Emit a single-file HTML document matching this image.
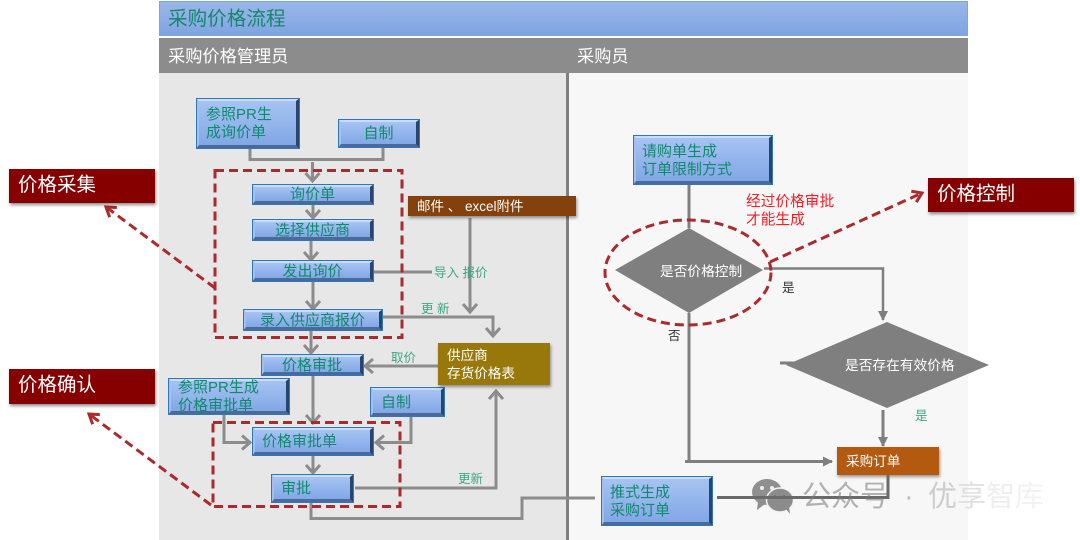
<!DOCTYPE html>
<html><head><meta charset="utf-8">
<style>
html,body{margin:0;padding:0;background:#fff}
#p{position:relative;width:1080px;height:540px;overflow:hidden;background:#fff;font-family:"Liberation Sans","Noto Sans CJK SC",sans-serif}
#p div{position:absolute;box-sizing:border-box;white-space:nowrap}
.b{background:linear-gradient(#a6c3f2,#82a7e6);border-style:solid;border-color:#c9dcf8 #27456f #4a6a9e #a3bfec;border-width:3px 4px 4px 3px;outline:1px solid #2f78b8;outline-offset:-1px;color:#0f8a6c;font-size:15px;line-height:18px;padding-top:2px;display:flex;align-items:center;justify-content:center}
.l{justify-content:flex-start}
.r{background:#860000;color:#fff;font-size:19.5px;line-height:33px;padding-left:9px;box-shadow:1px 2px 3px rgba(0,0,0,.45)}
.s{box-shadow:1px 2px 3px rgba(0,0,0,.4);color:#fff}
.t{font-size:12.500px;line-height:14px;color:#3fa582}
</style></head><body><div id="p">
<div style="left:159px;top:1px;width:809px;height:35px;background:linear-gradient(#9ab7e8,#7fa4e2);border:1px solid #7aa6e0;color:#14886a;font-size:19.6px;line-height:35px;padding-left:8px">采购价格流程</div>
<div style="left:159px;top:38px;width:809px;height:35px;background:#8c8c8c;color:#fff;font-size:17.2px;line-height:37px;padding-left:9px">采购价格管理员<span style="position:absolute;left:418px">采购员</span></div>
<div style="left:159px;top:73px;width:408px;height:467px;background:#e7e7e7"></div>
<div style="left:569px;top:73px;width:399px;height:467px;background:#f7f7f7"></div>
<div style="left:566px;top:73px;width:3px;height:467px;background:#808080"></div>

<svg width="1080" height="540" style="position:absolute;left:0;top:0">
<defs>
<marker id="a" markerUnits="userSpaceOnUse" markerWidth="18" markerHeight="18" refX="13" refY="9" orient="auto"><path d="M5 2 L13 9 L5 16" fill="none" stroke="#8c8c8c" stroke-width="3"/></marker>
<marker id="d" markerUnits="userSpaceOnUse" markerWidth="12" markerHeight="12" refX="10" refY="6" orient="auto"><path d="M1 1 L11 6 L1 11 Z" fill="#7f7f7f"/></marker>
<marker id="v" markerUnits="userSpaceOnUse" markerWidth="16" markerHeight="16" refX="13" refY="8" orient="auto"><path d="M4 2 L13 8 L4 14" fill="none" stroke="#ab2a2c" stroke-width="3"/></marker>
</defs>
<g fill="none" stroke="#8c8c8c" stroke-width="3">
<path d="M250 149V159.5H383V148"/>
<path d="M312.5 162V181" marker-end="url(#a)"/>
<path d="M313 205V218" marker-end="url(#a)"/>
<path d="M311 241V260" marker-end="url(#a)"/>
<path d="M313 282V309" marker-end="url(#a)"/>
<path d="M311 331V353" marker-end="url(#a)"/>
<path d="M313 376V423" marker-end="url(#a)"/>
<path d="M313 456V473" marker-end="url(#a)"/>
<path d="M470 218V312" marker-end="url(#a)"/>
<path d="M374 272H432"/>
<path d="M383 317H493V336" marker-end="url(#a)"/>
<path d="M438 366H365" marker-end="url(#a)"/>
<path d="M224 415V442.5H250" marker-end="url(#a)"/>
<path d="M411 417V442.5H376" marker-end="url(#a)"/>
<path d="M355 488H496V391" marker-end="url(#a)"/>
<path d="M311 503V518.5H522V498H595"/>
</g>
<g fill="none" stroke="#7f7f7f" stroke-width="3">
<path d="M689 185V228"/>
<path d="M689 313V461.5"/>
<path d="M685 461.5H832" marker-end="url(#d)"/>
<path d="M764 268.5H883V320" stroke-width="2.5" marker-end="url(#d)"/>
<path d="M883 410V446" marker-end="url(#d)"/>
<path d="M780 363H802"/>
</g>
<polygon points="689,228 763,270 689,313 615,270" fill="#7f7f7f"/>
<polygon points="887,322 989,365 887,408 786,365" fill="#7f7f7f"/>
<g fill="none" stroke="#ab2a2c" stroke-width="3" stroke-dasharray="9 5">
<rect x="215" y="170.5" width="187" height="167"/>
<rect x="213" y="422.5" width="187" height="84"/>
<ellipse cx="688" cy="272.5" rx="83" ry="52.5"/>
<path d="M215 288L106 207" marker-end="url(#v)"/>
<path d="M211 505L89 414" marker-end="url(#v)"/>
<path d="M770 262L922 193" marker-end="url(#v)"/>
</g>
</svg>

<div class="b l" style="left:196px;top:98px;width:104px;height:51px;padding-left:7px">参照PR生<br>成询价单</div>
<div class="b" style="left:338px;top:119px;width:82px;height:29px">自制</div>
<div class="b" style="left:252px;top:184px;width:122px;height:21px">询价单</div>
<div class="b" style="left:252px;top:219px;width:122px;height:22px">选择供应商</div>
<div class="b" style="left:252px;top:260px;width:122px;height:22px">发出询价</div>
<div class="b" style="left:243px;top:309px;width:140px;height:22px">录入供应商报价</div>
<div class="b" style="left:261px;top:354px;width:103px;height:22px">价格审批</div>
<div class="b l" style="left:168px;top:378px;width:122px;height:37px;padding-left:7px">参照PR生成<br>价格审批单</div>
<div class="b l" style="left:370px;top:387px;width:75px;height:30px;padding-left:8px">自制</div>
<div class="b l" style="left:252px;top:427px;width:122px;height:29px;padding-left:7px">价格审批单</div>
<div class="b l" style="left:271px;top:474px;width:83px;height:29px;padding-left:7px">审批</div>
<div class="b l" style="left:633px;top:135px;width:140px;height:50px;padding-left:6px">请购单生成<br>订单限制方式</div>
<div class="b l" style="left:601px;top:476px;width:112px;height:50px;padding-left:6px">推式生成<br>采购订单</div>

<div class="s" style="left:408px;top:196px;width:168px;height:20px;background:#84410c;font-size:13.5px;line-height:21px;padding-left:9px">邮件 、 excel附件</div>
<div class="s" style="left:438px;top:343px;width:112px;height:42px;background:#98780a;font-size:13.6px;line-height:18px;padding:4px 0 0 9px">供应商<br>存货价格表</div>
<div class="s" style="left:837px;top:447px;width:102px;height:28px;background:#b45a10;font-size:13.6px;line-height:29px;padding-left:9px">采购订单</div>

<div class="r" style="left:9px;top:169px;width:146px;height:34px">价格采集</div>
<div class="r" style="left:9px;top:369px;width:146px;height:35px">价格确认</div>
<div class="r" style="left:928px;top:178px;width:146px;height:34px">价格控制</div>

<div class="t" style="left:434px;top:266px">导入 报价</div>
<div class="t" style="left:421px;top:302px">更 新</div>
<div class="t" style="left:391px;top:351px">取价</div>
<div class="t" style="left:458px;top:472px">更新</div>
<div class="t" style="left:915px;top:409px">是</div>
<div style="left:746px;top:193px;color:#fb1c24;font-size:14.7px;line-height:18px">经过价格审批<br>才能生成</div>
<div style="left:660px;top:264px;color:#fff;font-size:13.7px;line-height:16px">是否价格控制</div>
<div style="left:845px;top:358px;color:#fff;font-size:13.7px;line-height:16px">是否存在有效价格</div>
<div style="left:782px;top:281px;color:#333;font-size:12.5px;line-height:14px">是</div>
<div style="left:668px;top:329px;color:#333;font-size:12.5px;line-height:14px">否</div>

<svg width="50" height="40" viewBox="0 0 50 40" style="position:absolute;left:750px;top:476px">
<ellipse cx="17" cy="16" rx="15" ry="13" fill="#8f8f8f"/><path d="M8 25L7 34L15 28Z" fill="#8f8f8f"/>
<ellipse cx="30" cy="24" rx="13.500" ry="12" fill="#8c8c8c" stroke="#f2f2f2" stroke-width="1.500"/><path d="M36 33L40 38L39 30Z" fill="#8c8c8c"/>
<circle cx="12" cy="12" r="2" fill="#eee"/><circle cx="22" cy="12" r="2" fill="#eee"/>
<circle cx="25" cy="21" r="1.500" fill="#555"/><circle cx="34" cy="21" r="1.500" fill="#555"/>
</svg>
<svg width="1080" height="540" style="position:absolute;left:0;top:0"><path d="M717 497.5H888V475" fill="none" stroke="#6a6a6a" stroke-width="3"/></svg>
<div style="left:802px;top:478px;color:rgba(120,120,120,.55);font-size:29px;line-height:38px">公众号</div>
<div style="left:904px;top:478px;color:#bdbdbd;font-size:29px;line-height:38px">·</div>
<div style="left:928px;top:478px;font-size:29px;line-height:38px"><span style="color:#cdcdcd">优</span><span style="color:#e0e0e0">享</span><span style="color:#eeeeee">智</span><span style="color:#f2f2f2">库</span></div>
</div></body></html>
